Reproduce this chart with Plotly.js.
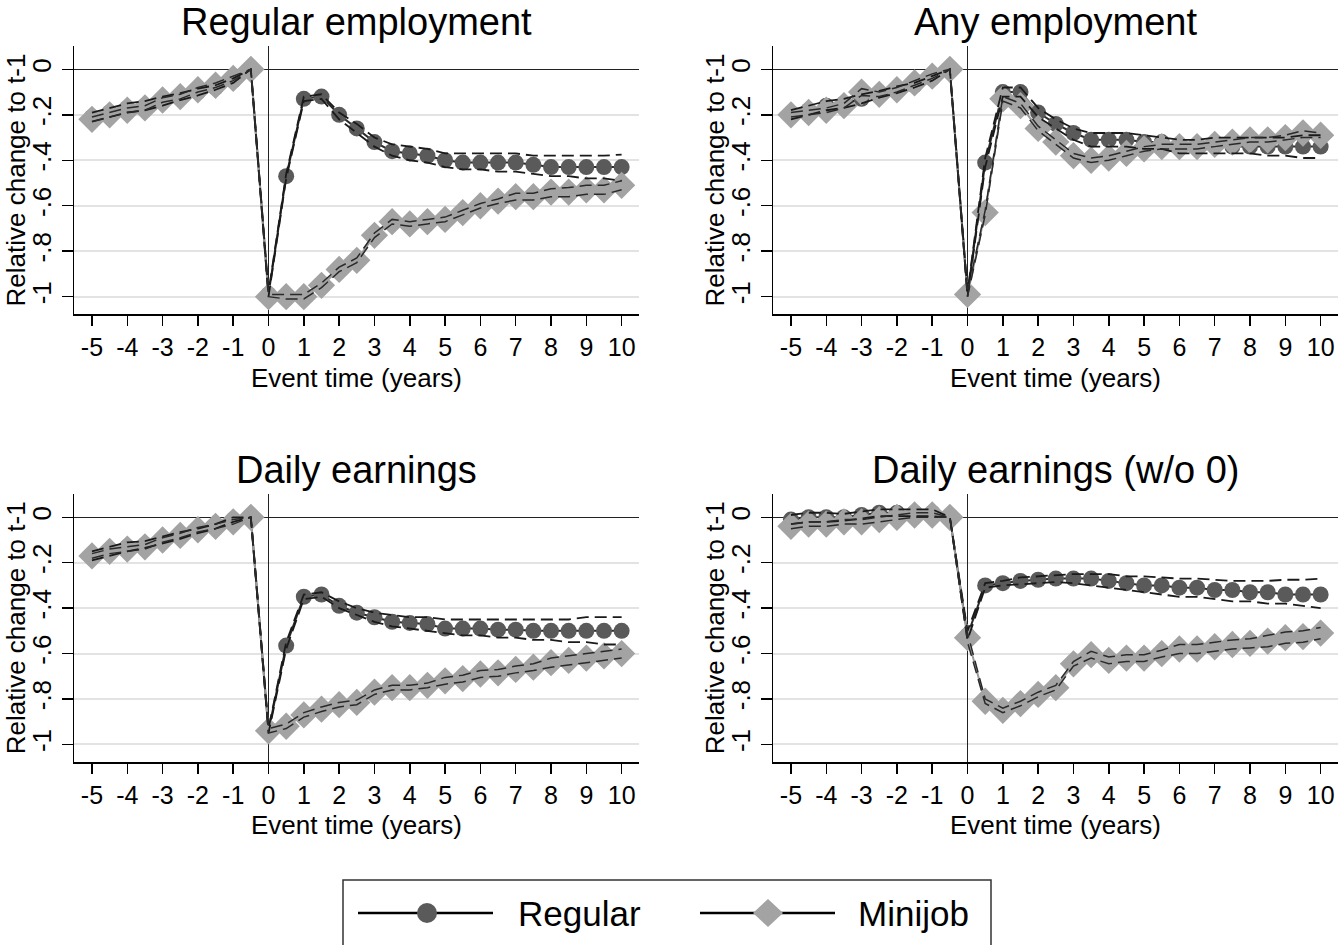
<!DOCTYPE html>
<html>
<head>
<meta charset="utf-8">
<script src="https://cdn.plot.ly/plotly-3.0.1.min.js"></script>
<style>html,body{margin:0;padding:0;background:#fff;}#chart{width:1339px;height:945px;}</style>
</head>
<body>
<div id="chart"></div>
<script>
// Event time (years)
const eventTime = [-5,-4.5,-4,-3.5,-3,-2.5,-2,-1.5,-1,-0.5,0,0.5,1,1.5,2,2.5,3,3.5,4,4.5,5,5.5,6,6.5,7,7.5,8,8.5,9,9.5,10];
const xTickVals = [-5,-4,-3,-2,-1,0,1,2,3,4,5,6,7,8,9,10];
const xTickText = ['-5','-4','-3','-2','-1','0','1','2','3','4','5','6','7','8','9','10'];
const yTickVals = [-1,-0.8,-0.6,-0.4,-0.2,0];
const yTickText = ['-1','-.8','-.6','-.4','-.2','0'];
const panelTitles = ['Regular employment','Any employment','Daily earnings','Daily earnings (w/o 0)'];
const seriesNames = ['Regular','Minijob'];

// Panel 1: Regular employment
const p1Reg   = [-0.21,-0.19,-0.17,-0.16,-0.14,-0.12,-0.10,-0.08,-0.05,0, -0.99,-0.47,-0.13,-0.12,-0.20,-0.26,-0.32,-0.36,-0.37,-0.38,-0.40,-0.41,-0.41,-0.41,-0.41,-0.42,-0.43,-0.43,-0.43,-0.43,-0.43];
const p1RegLo = [-0.23,-0.21,-0.19,-0.18,-0.16,-0.135,-0.115,-0.09,-0.06,0, -1.0,-0.48,-0.14,-0.13,-0.22,-0.28,-0.34,-0.38,-0.40,-0.41,-0.43,-0.44,-0.44,-0.45,-0.45,-0.46,-0.47,-0.47,-0.48,-0.48,-0.49];
const p1RegHi = [-0.19,-0.17,-0.15,-0.14,-0.12,-0.105,-0.085,-0.07,-0.04,0, -0.98,-0.46,-0.12,-0.11,-0.19,-0.24,-0.30,-0.33,-0.34,-0.35,-0.37,-0.37,-0.37,-0.37,-0.37,-0.38,-0.38,-0.38,-0.38,-0.38,-0.375];
const p1Mini   = [-0.22,-0.20,-0.18,-0.17,-0.135,-0.12,-0.09,-0.07,-0.04,0, -1.0,-1.0,-1.0,-0.95,-0.88,-0.84,-0.73,-0.67,-0.68,-0.67,-0.66,-0.63,-0.60,-0.58,-0.56,-0.56,-0.54,-0.54,-0.53,-0.53,-0.51];
const p1MiniLo = [-0.23,-0.21,-0.19,-0.18,-0.145,-0.13,-0.10,-0.08,-0.05,0, -1.0,-1.01,-1.01,-0.96,-0.89,-0.85,-0.74,-0.68,-0.69,-0.68,-0.67,-0.64,-0.61,-0.59,-0.575,-0.575,-0.56,-0.56,-0.55,-0.55,-0.53];
const p1MiniHi = [-0.21,-0.19,-0.17,-0.16,-0.125,-0.11,-0.08,-0.06,-0.03,0, -0.99,-0.99,-0.99,-0.94,-0.87,-0.83,-0.72,-0.66,-0.67,-0.66,-0.65,-0.62,-0.59,-0.57,-0.545,-0.545,-0.525,-0.52,-0.51,-0.51,-0.49];

// Panel 2: Any employment
const p2Reg   = [-0.20,-0.18,-0.16,-0.15,-0.13,-0.11,-0.09,-0.07,-0.04,0, -0.99,-0.41,-0.10,-0.10,-0.19,-0.24,-0.28,-0.31,-0.31,-0.31,-0.32,-0.32,-0.34,-0.34,-0.33,-0.34,-0.34,-0.34,-0.34,-0.34,-0.34];
const p2RegLo = [-0.22,-0.20,-0.18,-0.17,-0.15,-0.125,-0.105,-0.08,-0.05,0, -1.0,-0.43,-0.12,-0.12,-0.21,-0.26,-0.31,-0.34,-0.34,-0.34,-0.35,-0.35,-0.37,-0.37,-0.37,-0.37,-0.37,-0.38,-0.38,-0.39,-0.39];
const p2RegHi = [-0.18,-0.16,-0.14,-0.13,-0.11,-0.095,-0.075,-0.06,-0.03,0, -0.98,-0.39,-0.08,-0.08,-0.17,-0.22,-0.26,-0.28,-0.28,-0.28,-0.29,-0.30,-0.31,-0.31,-0.30,-0.30,-0.30,-0.30,-0.30,-0.29,-0.29];
const p2Mini   = [-0.20,-0.19,-0.18,-0.16,-0.10,-0.11,-0.09,-0.06,-0.03,0, -0.99,-0.63,-0.13,-0.16,-0.26,-0.32,-0.38,-0.40,-0.39,-0.37,-0.35,-0.34,-0.34,-0.34,-0.33,-0.32,-0.31,-0.31,-0.30,-0.28,-0.29];
const p2MiniLo = [-0.21,-0.20,-0.19,-0.17,-0.115,-0.12,-0.10,-0.07,-0.04,0, -1.0,-0.64,-0.14,-0.17,-0.27,-0.33,-0.39,-0.41,-0.40,-0.38,-0.36,-0.35,-0.35,-0.35,-0.34,-0.33,-0.32,-0.32,-0.31,-0.30,-0.30];
const p2MiniHi = [-0.19,-0.18,-0.17,-0.15,-0.085,-0.10,-0.08,-0.05,-0.02,0, -0.98,-0.62,-0.12,-0.15,-0.25,-0.31,-0.37,-0.39,-0.38,-0.36,-0.34,-0.33,-0.33,-0.33,-0.32,-0.31,-0.30,-0.30,-0.29,-0.27,-0.28];

// Panel 3: Daily earnings
const p3Reg   = [-0.17,-0.15,-0.13,-0.12,-0.10,-0.08,-0.06,-0.04,-0.01,0, -0.94,-0.565,-0.35,-0.34,-0.39,-0.42,-0.44,-0.46,-0.465,-0.47,-0.49,-0.49,-0.49,-0.495,-0.495,-0.50,-0.50,-0.50,-0.50,-0.50,-0.50];
const p3RegLo = [-0.19,-0.17,-0.15,-0.135,-0.115,-0.095,-0.07,-0.05,-0.02,0, -0.95,-0.58,-0.36,-0.35,-0.40,-0.43,-0.46,-0.48,-0.49,-0.50,-0.51,-0.52,-0.52,-0.53,-0.53,-0.54,-0.54,-0.55,-0.55,-0.56,-0.56];
const p3RegHi = [-0.15,-0.13,-0.11,-0.105,-0.085,-0.065,-0.05,-0.03,0.0,0, -0.93,-0.55,-0.34,-0.33,-0.37,-0.40,-0.42,-0.43,-0.44,-0.44,-0.45,-0.45,-0.45,-0.45,-0.45,-0.45,-0.45,-0.45,-0.44,-0.44,-0.44];
const p3Mini   = [-0.17,-0.15,-0.14,-0.13,-0.10,-0.08,-0.055,-0.04,-0.02,0, -0.94,-0.92,-0.87,-0.845,-0.825,-0.815,-0.77,-0.75,-0.75,-0.74,-0.72,-0.71,-0.69,-0.685,-0.67,-0.66,-0.64,-0.63,-0.62,-0.61,-0.60];
const p3MiniLo = [-0.18,-0.16,-0.15,-0.14,-0.11,-0.09,-0.065,-0.05,-0.03,0, -0.95,-0.93,-0.88,-0.855,-0.835,-0.825,-0.78,-0.76,-0.76,-0.75,-0.735,-0.725,-0.705,-0.70,-0.685,-0.675,-0.66,-0.65,-0.64,-0.63,-0.62];
const p3MiniHi = [-0.16,-0.14,-0.13,-0.12,-0.09,-0.07,-0.045,-0.03,-0.01,0, -0.93,-0.91,-0.86,-0.835,-0.815,-0.805,-0.76,-0.74,-0.74,-0.73,-0.705,-0.695,-0.675,-0.67,-0.655,-0.645,-0.62,-0.61,-0.60,-0.59,-0.58];

// Panel 4: Daily earnings (w/o 0)
const p4Reg   = [-0.01,0.0,0.0,0.0,0.01,0.02,0.02,0.02,0.02,0, -0.52,-0.30,-0.29,-0.28,-0.275,-0.27,-0.27,-0.27,-0.28,-0.29,-0.30,-0.30,-0.31,-0.31,-0.32,-0.32,-0.33,-0.33,-0.34,-0.34,-0.34];
const p4RegLo = [-0.03,-0.02,-0.02,-0.015,-0.005,0.005,0.005,0.005,0.005,0, -0.54,-0.31,-0.30,-0.295,-0.29,-0.285,-0.29,-0.30,-0.31,-0.32,-0.33,-0.34,-0.35,-0.35,-0.36,-0.37,-0.37,-0.38,-0.38,-0.39,-0.40];
const p4RegHi = [0.01,0.02,0.02,0.015,0.025,0.035,0.035,0.035,0.035,0, -0.50,-0.29,-0.28,-0.265,-0.26,-0.255,-0.25,-0.25,-0.25,-0.26,-0.26,-0.265,-0.27,-0.27,-0.275,-0.28,-0.28,-0.28,-0.275,-0.275,-0.27];
const p4Mini   = [-0.04,-0.03,-0.03,-0.02,-0.02,-0.01,0.0,0.01,0.01,0.0, -0.53,-0.81,-0.85,-0.82,-0.78,-0.75,-0.645,-0.605,-0.63,-0.62,-0.62,-0.60,-0.58,-0.58,-0.57,-0.56,-0.555,-0.545,-0.53,-0.525,-0.51];
const p4MiniLo = [-0.05,-0.04,-0.04,-0.03,-0.03,-0.02,-0.01,0.0,0.0,0.0, -0.55,-0.82,-0.86,-0.83,-0.79,-0.76,-0.655,-0.62,-0.645,-0.635,-0.635,-0.615,-0.60,-0.60,-0.59,-0.58,-0.575,-0.57,-0.555,-0.55,-0.535];
const p4MiniHi = [-0.03,-0.02,-0.02,-0.01,-0.01,0.0,0.01,0.02,0.02,0.0, -0.51,-0.80,-0.84,-0.81,-0.77,-0.74,-0.635,-0.59,-0.615,-0.605,-0.605,-0.585,-0.56,-0.56,-0.55,-0.54,-0.535,-0.52,-0.505,-0.50,-0.485];

const panels = [
  {reg:p1Reg, regLo:p1RegLo, regHi:p1RegHi, mini:p1Mini, miniLo:p1MiniLo, miniHi:p1MiniHi},
  {reg:p2Reg, regLo:p2RegLo, regHi:p2RegHi, mini:p2Mini, miniLo:p2MiniLo, miniHi:p2MiniHi},
  {reg:p3Reg, regLo:p3RegLo, regHi:p3RegHi, mini:p3Mini, miniLo:p3MiniLo, miniHi:p3MiniHi},
  {reg:p4Reg, regLo:p4RegLo, regHi:p4RegHi, mini:p4Mini, miniLo:p4MiniLo, miniHi:p4MiniHi}
];

const W = 1339, H = 945;
const FONT = 'Liberation Sans, Arial, sans-serif';
const regMarker = '#5a5a5a', miniMarker = '#a3a3a3';
const regLine = '#2b2b2b', miniLine = '#9a9a9a';
const PX = v => v / W, PY = v => 1 - v / H;

// panel domains in pixels (left, right, top, bottom)
const px = [[74.3,639.3],[773.3,1338.3]];
const py = [[46,314.3],[494,762]];
const dom = [];
for (let r=0;r<2;r++) for (let c=0;c<2;c++) {
  dom.push({x:[PX(px[c][0]), PX(px[c][1])], y:[PY(py[r][1]), PY(py[r][0])]});
}

const traces = [];
const layout = {
  width:W, height:H,
  margin:{l:0,r:0,t:0,b:0},
  paper_bgcolor:'#fff', plot_bgcolor:'#fff',
  font:{family:FONT, color:'#000', size:26},
  showlegend:false,
  annotations:[], shapes:[]
};

panels.forEach((p,i)=>{
  const n = i+1;
  const xa = n===1?'x':'x'+n, ya = n===1?'y':'y'+n;
  const common = {x:eventTime, xaxis:xa, yaxis:ya, showlegend:false, hoverinfo:'skip'};
  traces.push(Object.assign({}, common, {y:p.reg, mode:'lines+markers', name:seriesNames[0],
    line:{color:regLine, width:2}, marker:{symbol:'circle', size:16, color:regMarker, line:{width:0}}}));
  traces.push(Object.assign({}, common, {y:p.mini, mode:'lines+markers', name:seriesNames[1],
    line:{color:miniLine, width:2}, marker:{symbol:'diamond', size:21, color:miniMarker, line:{width:0}}}));
  [p.regLo, p.regHi].forEach(arr=>traces.push(Object.assign({}, common, {y:arr, mode:'lines',
    line:{color:'#1a1a1a', width:1.8, dash:'12px,6px'}})));
  [p.miniLo, p.miniHi].forEach(arr=>traces.push(Object.assign({}, common, {y:arr, mode:'lines',
    line:{color:'#2a2a2a', width:1.5, dash:'12px,6px'}})));

  const d = dom[i];
  layout['xaxis'+(n===1?'':n)] = {
    domain:d.x, anchor:ya, range:[-5.5,10.5], tickmode:'array', tickvals:xTickVals, ticktext:xTickText,
    ticks:'outside', ticklen:10, tickwidth:1.5, tickcolor:'#000',
    showline:true, linecolor:'#000', linewidth:1.5, mirror:false,
    showgrid:false, zeroline:true, zerolinecolor:'#222', zerolinewidth:1.5,
    tickfont:{size:25, family:FONT, color:'#000'}, fixedrange:true
  };
  layout['yaxis'+(n===1?'':n)] = {
    domain:d.y, anchor:xa, range:[-1.0774,0.1025], tickmode:'array', tickvals:yTickVals, ticktext:yTickText,
    ticks:'outside', ticklen:11, tickwidth:1.5, tickcolor:'#000', tickangle:-90,
    showline:true, linecolor:'#000', linewidth:1.5, mirror:false,
    showgrid:true, gridcolor:'#e3e3e3', gridwidth:2,
    zeroline:true, zerolinecolor:'#222', zerolinewidth:1.5,
    tickfont:{size:26, family:FONT, color:'#000'}, fixedrange:true
  };
  const cx = (d.x[0]+d.x[1])/2;
  const cy = (d.y[0]+d.y[1])/2;
  const r = Math.floor(i/2);
  layout.annotations.push({text:panelTitles[i], xref:'paper', yref:'paper', x:cx, y:PY(r===0?22:470),
    xanchor:'center', yanchor:'middle', showarrow:false, font:{size:38, family:FONT, color:'#000'}});
  layout.annotations.push({text:'Event time (years)', xref:'paper', yref:'paper', x:cx, y:PY(r===0?378:825),
    xanchor:'center', yanchor:'middle', showarrow:false, borderpad:0, font:{size:26, family:FONT, color:'#000'}});
  layout.annotations.push({text:'Relative change to t-1', xref:'paper', yref:'paper', x:PX(d.x[0]*W-58), y:cy,
    xanchor:'center', yanchor:'middle', textangle:-90, showarrow:false, font:{size:26, family:FONT, color:'#000'}});
});

// Legend (drawn as a framed key below the panels)
const LY = 913;
layout.shapes.push({type:'rect', xref:'paper', yref:'paper', x0:PX(343), x1:PX(991), y0:PY(880), y1:PY(952),
  line:{color:'#333', width:1.5}, fillcolor:'rgba(0,0,0,0)'});
layout.shapes.push({type:'line', xref:'paper', yref:'paper', x0:PX(358), x1:PX(493), y0:PY(LY), y1:PY(LY),
  line:{color:'#000', width:2.5}});
layout.shapes.push({type:'circle', xref:'paper', yref:'paper', x0:PX(417), x1:PX(437), y0:PY(LY-10), y1:PY(LY+10),
  line:{width:0}, fillcolor:regMarker});
layout.shapes.push({type:'line', xref:'paper', yref:'paper', x0:PX(700), x1:PX(835), y0:PY(LY), y1:PY(LY),
  line:{color:'#000', width:2.5}});
layout.shapes.push({type:'path', xref:'paper', yref:'paper',
  path:`M ${PX(753)} ${PY(LY)} L ${PX(768)} ${PY(LY-14)} L ${PX(783)} ${PY(LY)} L ${PX(768)} ${PY(LY+14)} Z`,
  line:{width:0}, fillcolor:miniMarker});
layout.annotations.push({text:seriesNames[0], xref:'paper', yref:'paper', x:PX(516), y:PY(LY),
  xanchor:'left', yanchor:'middle', showarrow:false, font:{size:35, family:FONT, color:'#000'}});
layout.annotations.push({text:seriesNames[1], xref:'paper', yref:'paper', x:PX(856), y:PY(LY),
  xanchor:'left', yanchor:'middle', showarrow:false, font:{size:35, family:FONT, color:'#000'}});

Plotly.newPlot('chart', traces, layout, {staticPlot:true, displayModeBar:false});
</script>
</body>
</html>
